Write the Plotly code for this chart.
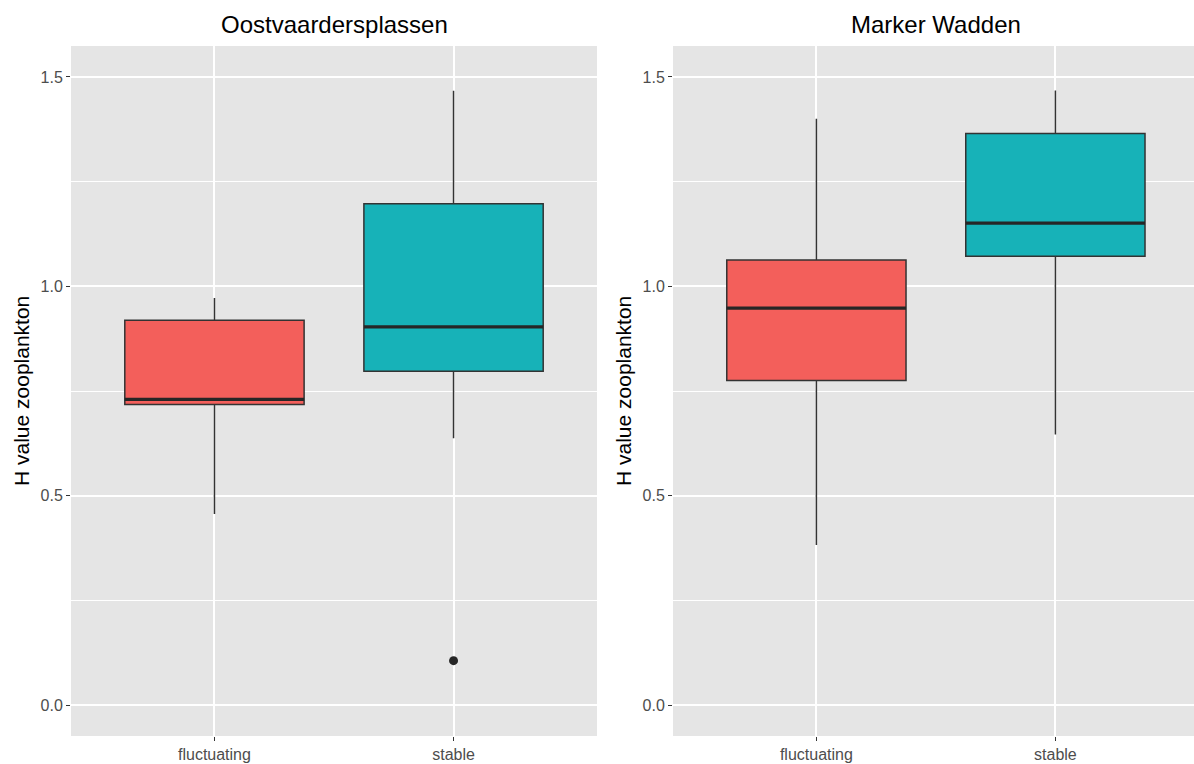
import plotly.graph_objects as go

# Summary statistics of H value (zooplankton) per site and water-level regime
sites = ["Oostvaardersplassen", "Marker Wadden"]
groups = ["fluctuating", "stable"]

lower_whisker = {"Oostvaardersplassen": [0.456, 0.637], "Marker Wadden": [0.382, 0.646]}
q1 = {"Oostvaardersplassen": [0.718, 0.797], "Marker Wadden": [0.775, 1.072]}
median = {"Oostvaardersplassen": [0.730, 0.903], "Marker Wadden": [0.948, 1.151]}
q3 = {"Oostvaardersplassen": [0.919, 1.197], "Marker Wadden": [1.063, 1.365]}
upper_whisker = {"Oostvaardersplassen": [0.972, 1.467], "Marker Wadden": [1.400, 1.468]}

# Points beyond the whiskers: (site, group index, value)
outliers = [("Oostvaardersplassen", 1, 0.106)]

y_ticks = [0.0, 0.5, 1.0, 1.5]
y_range = [-0.074, 1.574]

fills = ["#F35F5B", "#17B2B8"]
edge = "#333333"
box_width = 0.75
W, H = 1194, 764

fig = go.Figure()

# pixel geometry of the two panels (right panel is clipped at the page edge)
panels = [
    {"x0": 71, "x1": 597, "xmax": 2.6, "axis": ""},
    {"x0": 673, "x1": 1194, "xmax": 2.58, "axis": "2"},
]
top_px, bottom_px = 46, 736

for site, p in zip(sites, panels):
    xa = "x" + p["axis"]
    ya = "y" + p["axis"]
    for i, g in enumerate(groups):
        pos = i + 1
        fig.add_trace(go.Box(
            x=[pos], q1=[q1[site][i]], median=[median[site][i]], q3=[q3[site][i]],
            lowerfence=[lower_whisker[site][i]], upperfence=[upper_whisker[site][i]],
            width=box_width, whiskerwidth=0, fillcolor=fills[i],
            line=dict(color=edge, width=1.5), boxpoints=False,
            hoverinfo="skip", showlegend=False, xaxis=xa, yaxis=ya,
        ))
        # emphasised median bar across the box
        m = median[site][i]
        fig.add_trace(go.Scatter(
            x=[pos - box_width / 2, pos + box_width / 2], y=[m, m],
            mode="lines", line=dict(color="#262626", width=3.2),
            hoverinfo="skip", showlegend=False, xaxis=xa, yaxis=ya,
        ))
    for s, gi, val in outliers:
        if s == site:
            fig.add_trace(go.Scatter(
                x=[gi + 1], y=[val], mode="markers",
                marker=dict(color="#262626", size=9),
                hoverinfo="skip", showlegend=False, xaxis=xa, yaxis=ya,
            ))

ydom = [1 - bottom_px / H, 1 - top_px / H]
axis_font = dict(family="Liberation Sans, Arial, sans-serif", size=16, color="#4D4D4D")

layout = dict(
    width=W, height=H,
    margin=dict(l=0, r=0, t=0, b=0),
    paper_bgcolor="white",
    plot_bgcolor="#E5E5E5",
    font=dict(family="Liberation Sans, Arial, sans-serif"),
    annotations=[],
)

for site, p in zip(sites, panels):
    key = p["axis"]
    xdom = [p["x0"] / W, p["x1"] / W]
    layout["xaxis" + key] = dict(
        domain=xdom, range=[0.4, p["xmax"]], tickmode="array",
        tickvals=[1, 2], ticktext=groups, showgrid=True, gridcolor="white",
        gridwidth=1.6, zeroline=False, ticks="outside", ticklen=4,
        tickcolor=edge, tickwidth=1.2, tickfont=axis_font, showline=False,
        anchor="y" + key, fixedrange=True,
    )
    layout["yaxis" + key] = dict(
        domain=ydom, range=y_range, tickmode="array", tickvals=y_ticks,
        ticktext=[f"{v:.1f}" for v in y_ticks], showgrid=True,
        gridcolor="white", gridwidth=1.6, zeroline=False, ticks="outside",
        ticklen=4, tickcolor=edge, tickwidth=1.2, tickfont=axis_font,
        minor=dict(tickmode="array", tickvals=[0.25, 0.75, 1.25],
                   showgrid=True, gridcolor="white", gridwidth=0.8, ticks=""),
        anchor="x" + key, fixedrange=True,
    )
    # panel title, centred over the full (unclipped) panel width
    center_px = p["x0"] + (p["x1"] - p["x0"]) * (1.5 - 0.4) / (p["xmax"] - 0.4)
    layout["annotations"].append(dict(
        text=site, x=center_px / W, y=1 - 25 / H,
        xref="paper", yref="paper", showarrow=False,
        xanchor="center", yanchor="middle",
        font=dict(size=24, color="black"),
    ))
    # y axis title
    layout["annotations"].append(dict(
        text="H value zooplankton", x=(p["x0"] - 49) / W,
        y=(ydom[0] + ydom[1]) / 2, xref="paper", yref="paper",
        showarrow=False, textangle=-90, xanchor="center", yanchor="middle",
        font=dict(size=21, color="black"),
    ))

fig.update_layout(**layout)
fig.write_html("out.html")
